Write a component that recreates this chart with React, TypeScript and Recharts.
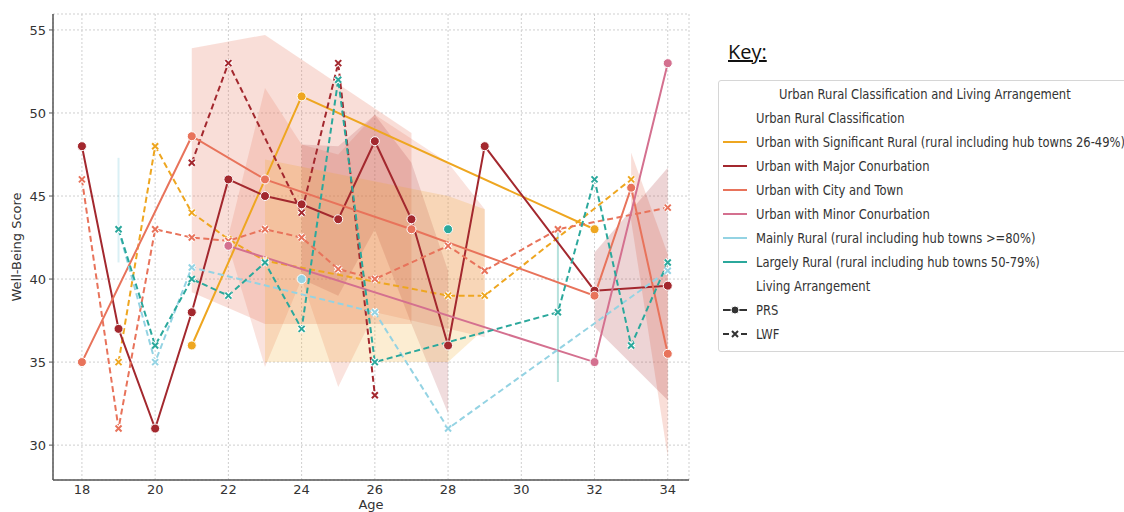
import React from "react";
import {
  ComposedChart,
  Line,
  Area,
  XAxis,
  YAxis,
  CartesianGrid,
  ReferenceLine,
} from "recharts";

// ages present in the survey
const ages = [18, 19, 20, 21, 22, 23, 24, 25, 26, 27, 28, 29, 31, 32, 33, 34];
const xTicks = [18, 20, 22, 24, 26, 28, 30, 32, 34];
const yTicks = [30, 35, 40, 45, 50, 55];

type V = number | null;

// mean well-being per age, one array per classification x arrangement
const sigPRS: V[] = [null, null, null, 36, null, null, 51, null, null, null, null, null, null, 43, null, null];
const sigLWF: V[] = [null, 35, 48, 44, 42.4, 41.1, null, null, null, null, 39, 39, null, null, 46, null];
const majPRS: V[] = [48, 37, 31, 38, 46, 45, 44.5, 43.6, 48.3, 43.6, 36, 48, null, 39.3, null, 39.6];
const majLWF: V[] = [null, null, null, 47, 53, null, 44, 53, 33, null, null, null, null, null, null, null];
const cityPRS: V[] = [35, null, null, 48.6, null, 46, null, null, null, 43, null, null, null, 39, 45.5, 35.5];
const cityLWF: V[] = [46, 31, 43, 42.5, 42.3, 43, 42.5, 40.6, 40, null, 42, 40.5, 43, null, null, 44.3];
const minPRS: V[] = [null, null, null, null, 42, null, null, null, null, null, null, null, null, 35, null, 53];
const mainPRS: V[] = [null, null, null, null, null, null, 40, null, null, null, null, null, null, null, null, null];
const mainLWF: V[] = [null, 43, 35, 40.7, null, null, null, null, 38, null, 31, null, null, null, null, 40.5];
const largePRS: V[] = [null, null, null, null, null, null, null, null, null, null, 43, null, null, null, null, null];
const largeLWF: V[] = [null, 43, 36, 40, 39, 41, 37, 52, 35, null, null, null, 38, 46, 36, 41];

// confidence bands: [age, low, high]
const cityPrsBandA = [[21, 39.2, 53.9], [23, 37.3, 54.7], [27, 37.3, 48.8]];
const cityPrsBandB = [[33, 43.5, 47.6], [34, 29.3, 41.5]];
const cityLwfBand = [[22, 42, 42.6], [23, 34.7, 51.5], [24, 40, 48.1], [25, 33.5, 47.5], [26, 38, 49.9], [28, 37, 47], [29, 36.5, 44.2]];
const majPrsBandA = [[24, 40, 48.1], [25, 39, 48], [26, 43, 49.9], [27, 37.3, 47], [28, 31.9, 40.5]];
const majPrsBandB = [[32, 37.1, 41.6], [34, 32.7, 46.7]];
const sigLwfBand = [[23, 35, 47.2], [28, 35, 45], [29, 37, 44.2]];

// thin error ticks: [age, low, high]
const errTicks = [[19, 41, 47.3], [31, 33.8, 43]];

const C = {
  sig: "#EEA620",
  maj: "#A3282E",
  city: "#E8735B",
  min: "#D4708F",
  main: "#94D3E3",
  large: "#2BA89C",
};

const series = [
  { key: "sigPRS", values: sigPRS, color: C.sig, dashed: false },
  { key: "sigLWF", values: sigLWF, color: C.sig, dashed: true },
  { key: "majPRS", values: majPRS, color: C.maj, dashed: false },
  { key: "majLWF", values: majLWF, color: C.maj, dashed: true },
  { key: "cityPRS", values: cityPRS, color: C.city, dashed: false },
  { key: "cityLWF", values: cityLWF, color: C.city, dashed: true },
  { key: "minPRS", values: minPRS, color: C.min, dashed: false },
  { key: "mainPRS", values: mainPRS, color: C.main, dashed: false },
  { key: "mainLWF", values: mainLWF, color: C.main, dashed: true },
  { key: "largePRS", values: largePRS, color: C.large, dashed: false },
  { key: "largeLWF", values: largeLWF, color: C.large, dashed: true },
];

const bands = [
  { key: "cityPrsBandA", pts: cityPrsBandA, color: C.city, op: 0.24 },
  { key: "cityPrsBandB", pts: cityPrsBandB, color: C.city, op: 0.24 },
  { key: "cityLwfBand", pts: cityLwfBand, color: C.city, op: 0.2 },
  { key: "majPrsBandA", pts: majPrsBandA, color: C.maj, op: 0.16 },
  { key: "majPrsBandB", pts: majPrsBandB, color: C.maj, op: 0.2 },
  { key: "sigLwfBand", pts: sigLwfBand, color: C.sig, op: 0.2 },
];

const legendClasses = [
  { label: "Urban with Significant Rural (rural including hub towns 26-49%)", color: C.sig },
  { label: "Urban with Major Conurbation", color: C.maj },
  { label: "Urban with City and Town", color: C.city },
  { label: "Urban with Minor Conurbation", color: C.min },
  { label: "Mainly Rural (rural including hub towns >=80%)", color: C.main },
  { label: "Largely Rural (rural including hub towns 50-79%)", color: C.large },
];

const rows = ages.map((age, i) => {
  const row: any = { age };
  series.forEach((s) => (row[s.key] = s.values[i]));
  bands.forEach((b) => {
    const p = b.pts.find((q) => q[0] === age);
    row[b.key] = p ? [p[1], p[2]] : null;
  });
  return row;
});

const FONT = "'DejaVu Sans', sans-serif";

const makeDot = (color: string, cross: boolean) => (props: any) => {
  const { cx, cy, value, index, dataKey } = props;
  const k = `${dataKey}-${index}`;
  if (value == null || cy == null || isNaN(cy)) return <g key={k} />;
  if (cross) {
    const s = 3;
    const d = `M${cx - s},${cy - s}L${cx + s},${cy + s}M${cx + s},${cy - s}L${cx - s},${cy + s}`;
    return (
      <g key={k}>
        <path d={d} stroke="#fff" strokeWidth={4} />
        <path d={d} stroke={color} strokeWidth={2} />
      </g>
    );
  }
  return <circle key={k} cx={cx} cy={cy} r={4.5} fill={color} stroke="#fff" strokeWidth={1} />;
};

function Legend() {
  const rowY = (i: number) => 117 + i * 24;
  const txt: React.CSSProperties = {
    position: "absolute",
    left: 37,
    fontFamily: FONT,
    fontSize: 13.5,
    color: "#333",
    whiteSpace: "nowrap",
    lineHeight: "16px",
    transform: "scaleX(0.855)",
    transformOrigin: "0 50%",
  };
  return (
    <>
      <div
        style={{
          position: "absolute",
          left: 728,
          top: 38,
          fontFamily: "'Open Sans', sans-serif",
          fontSize: 20,
          color: "#111",
          textDecoration: "underline",
        }}
      >
        Key:
      </div>
      <div
        style={{
          position: "absolute",
          left: 718,
          top: 80,
          width: 440,
          height: 270,
          border: "1px solid #d6d6d6",
          borderRadius: 3,
          background: "#fff",
        }}
      >
        <div style={{ ...txt, left: 60, top: 93 - 80 - 8 }}>
          Urban Rural Classification and Living Arrangement
        </div>
        <div style={{ ...txt, top: rowY(0) - 80 - 8 }}>Urban Rural Classification</div>
        {legendClasses.map((c, i) => (
          <React.Fragment key={c.label}>
            <div
              style={{
                position: "absolute",
                left: 4,
                top: rowY(i + 1) - 80 - 1,
                width: 24,
                height: 2,
                background: c.color,
              }}
            />
            <div style={{ ...txt, top: rowY(i + 1) - 80 - 8 }}>{c.label}</div>
          </React.Fragment>
        ))}
        <div style={{ ...txt, top: rowY(7) - 80 - 8 }}>Living Arrangement</div>
        <svg style={{ position: "absolute", left: 2, top: rowY(8) - 80 - 6 }} width={28} height={12}>
          <line x1={2} y1={6} x2={26} y2={6} stroke="#333" strokeWidth={2} />
          <circle cx={14} cy={6} r={4} fill="#333" stroke="#fff" strokeWidth={1} />
        </svg>
        <div style={{ ...txt, top: rowY(8) - 80 - 8 }}>PRS</div>
        <svg style={{ position: "absolute", left: 2, top: rowY(9) - 80 - 6 }} width={28} height={12}>
          <line x1={2} y1={6} x2={26} y2={6} stroke="#333" strokeWidth={2} strokeDasharray="6 3" />
          <path d="M11,3L17,9M17,3L11,9" stroke="#fff" strokeWidth={4} />
          <path d="M11,3L17,9M17,3L11,9" stroke="#333" strokeWidth={2} />
        </svg>
        <div style={{ ...txt, top: rowY(9) - 80 - 8 }}>LWF</div>
      </div>
    </>
  );
}

export default function App() {
  return (
    <div
      style={{
        position: "absolute",
        left: 0,
        top: 0,
        width: 1124,
        height: 512,
        overflow: "hidden",
        background: "#fff",
      }}
    >
      <ComposedChart
        width={700}
        height={512}
        data={rows}
        margin={{ top: 14, right: 11, bottom: 0, left: 0 }}
      >
        <CartesianGrid stroke="#cfcfcf" strokeDasharray="2 2" />
        <XAxis
          dataKey="age"
          type="number"
          domain={[17.21, 34.58]}
          ticks={xTicks}
          allowDataOverflow
          height={32}
          tickLine={false}
          tickSize={2}
          tickMargin={3}
          axisLine={{ stroke: "#555", strokeWidth: 1.5 }}
          tick={{ fontSize: 13, fill: "#333", fontFamily: FONT }}
          label={{
            value: "Age",
            position: "insideBottom",
            offset: 3,
            style: { fontSize: 13, fill: "#333", fontFamily: FONT },
          }}
        />
        <YAxis
          type="number"
          domain={[27.9, 55.96]}
          ticks={yTicks}
          allowDataOverflow
          width={53}
          tickSize={4}
          tickMargin={3}
          axisLine={{ stroke: "#555", strokeWidth: 1.5 }}
          tickLine={{ stroke: "#555" }}
          tick={{ fontSize: 13, fill: "#333", fontFamily: FONT }}
          label={{
            value: "Well-Being Score",
            angle: -90,
            position: "insideLeft",
            offset: 16,
            style: { fontSize: 13, fill: "#333", fontFamily: FONT, textAnchor: "middle" },
          }}
        />
        {bands.map((b) => (
          <Area
            key={b.key}
            dataKey={b.key}
            type="linear"
            stroke="none"
            fill={b.color}
            fillOpacity={b.op}
            connectNulls
            isAnimationActive={false}
            activeDot={false}
          />
        ))}
        {errTicks.map((e, i) => (
          <ReferenceLine
            key={i}
            segment={[
              { x: e[0], y: e[1] },
              { x: e[0], y: e[2] },
            ]}
            stroke={i === 0 ? C.main : C.large}
            strokeOpacity={0.35}
            strokeWidth={2}
          />
        ))}
        {series.map((s) => (
          <Line
            key={s.key}
            dataKey={s.key}
            type="linear"
            stroke={s.color}
            strokeWidth={2}
            strokeDasharray={s.dashed ? "6 3.5" : undefined}
            connectNulls
            dot={makeDot(s.color, s.dashed)}
            activeDot={false}
            isAnimationActive={false}
          />
        ))}
      </ComposedChart>
      <Legend />
    </div>
  );
}
